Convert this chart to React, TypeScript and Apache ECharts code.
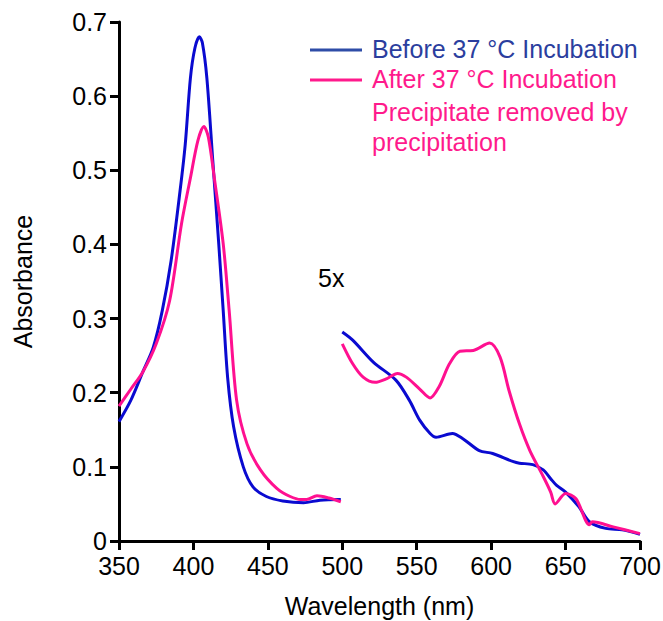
import React, { useEffect, useRef } from "react";
import * as echarts from "echarts";

const blueLeftX = [350, 358, 366, 373, 379, 385, 391, 394.5, 398, 401, 404, 406, 409, 413, 417, 420, 423, 427, 433.5, 440, 449, 460, 474, 485, 499];
const blueLeftY = [0.161, 0.19, 0.228, 0.261, 0.31, 0.378, 0.472, 0.535, 0.625, 0.665, 0.68, 0.672, 0.625, 0.513, 0.401, 0.311, 0.22, 0.154, 0.1, 0.073, 0.06, 0.054, 0.0516, 0.055, 0.056];

const pinkLeftX = [350, 358, 366, 375, 384, 392, 398, 403, 407, 410, 414, 420, 424, 429, 436, 445, 456, 465, 472, 476, 483, 491, 499];
const pinkLeftY = [0.182, 0.205, 0.228, 0.266, 0.324, 0.428, 0.49, 0.54, 0.559, 0.545, 0.49, 0.401, 0.311, 0.19, 0.131, 0.096, 0.071, 0.06, 0.056, 0.056, 0.061, 0.058, 0.053];

const blueRightX = [500, 507, 521, 536, 545, 552, 559, 563, 574, 581, 592, 601, 615, 619, 628, 635, 640, 644, 650, 659, 666, 677, 688, 700];
const blueRightY = [0.282, 0.271, 0.241, 0.217, 0.19, 0.163, 0.145, 0.14, 0.145, 0.138, 0.122, 0.118, 0.107, 0.105, 0.103, 0.096, 0.084, 0.075, 0.066, 0.046, 0.026, 0.017, 0.015, 0.009];

const pinkRightX = [500, 507, 514, 522, 530, 537, 543, 552, 559, 565, 572, 579, 588, 599, 606, 612, 619, 626, 635, 640, 643, 650, 657, 666, 668, 682, 700];
const pinkRightY = [0.266, 0.239, 0.221, 0.214, 0.219, 0.226, 0.221, 0.205, 0.193, 0.208, 0.239, 0.256, 0.257, 0.267, 0.248, 0.203, 0.158, 0.122, 0.087, 0.066, 0.05, 0.064, 0.057, 0.022, 0.026, 0.019, 0.01];

const xTicks = [350, 400, 450, 500, 550, 600, 650, 700];
const yTicks = [0, 0.1, 0.2, 0.3, 0.4, 0.5, 0.6, 0.7];

const legendLabels = ["Before 37 °C Incubation", "After 37 °C Incubation", "Precipitate removed by", "precipitation"];

const BLUE = "#0A0AD0";
const PINK = "#FF1090";
const FONT = "'Liberation Sans', Arial, Helvetica, sans-serif";

function join(xs: number[], ys: number[]) {
  return xs.map((x, i) => [x, ys[i]]);
}

export default function App() {
  const ref = useRef<HTMLDivElement>(null);
  useEffect(() => {
    if (!ref.current) return;
    const chart = echarts.init(ref.current, null, { renderer: "svg" });
    const blueData: any[] = [...join(blueLeftX, blueLeftY), [499.5, "-"], ...join(blueRightX, blueRightY)];
    const pinkData: any[] = [...join(pinkLeftX, pinkLeftY), [499.5, "-"], ...join(pinkRightX, pinkRightY)];
    chart.setOption({
      animation: false,
      backgroundColor: "#fff",
      textStyle: { fontFamily: FONT },
      grid: { left: 119, right: 23, top: 22, bottom: 80, containLabel: false, outerBoundsMode: "none" },
      xAxis: {
        type: "value",
        min: xTicks[0],
        max: xTicks[xTicks.length - 1],
        interval: 50,
        name: "Wavelength (nm)",
        nameLocation: "middle",
        nameGap: 52,
        nameTextStyle: { fontSize: 25, color: "#000", fontFamily: FONT },
        axisLine: { lineStyle: { color: "#000", width: 3 } },
        axisTick: { length: 9, lineStyle: { color: "#000", width: 3 } },
        axisLabel: { fontSize: 25, lineHeight: 20, color: "#000", margin: 15, fontFamily: FONT },
        splitLine: { show: false },
      },
      yAxis: {
        type: "value",
        min: yTicks[0],
        max: yTicks[yTicks.length - 1],
        interval: 0.1,
        name: "Absorbance",
        nameLocation: "middle",
        nameGap: 84,
        nameTextStyle: { fontSize: 25, color: "#000", fontFamily: FONT },
        axisLine: { lineStyle: { color: "#000", width: 3 } },
        axisTick: { length: 9, lineStyle: { color: "#000", width: 3 } },
        axisLabel: {
          fontSize: 25,
          lineHeight: 20,
          color: "#000",
          margin: 12,
          fontFamily: FONT,
          formatter: (v: number) => (v === 0 ? "0" : v.toFixed(1)),
        },
        splitLine: { show: false },
      },
      series: [
        {
          type: "line",
          name: "Before",
          data: blueData,
          showSymbol: false,
          smooth: 0.3,
          connectNulls: false,
          lineStyle: { color: BLUE, width: 3 },
        },
        {
          type: "line",
          name: "After",
          data: pinkData,
          showSymbol: false,
          smooth: 0.3,
          connectNulls: false,
          lineStyle: { color: PINK, width: 3 },
        },
      ],
      graphic: [
        { type: "line", shape: { x1: 310, y1: 50, x2: 362, y2: 50 }, style: { stroke: "#2E4DA7", lineWidth: 3 } },
        { type: "line", shape: { x1: 310, y1: 80, x2: 362, y2: 80 }, style: { stroke: "#FF1A8C", lineWidth: 3 } },
        { type: "text", x: 372, y: 49, style: { text: legendLabels[0], fill: "#2B3E9E", font: `25px ${FONT}`, verticalAlign: "middle" } },
        { type: "text", x: 372, y: 79, style: { text: legendLabels[1], fill: "#FF1A8C", font: `25px ${FONT}`, verticalAlign: "middle" } },
        { type: "text", x: 372, y: 112, style: { text: legendLabels[2], fill: "#FF1A8C", font: `25px ${FONT}`, verticalAlign: "middle" } },
        { type: "text", x: 372, y: 142, style: { text: legendLabels[3], fill: "#FF1A8C", font: `25px ${FONT}`, verticalAlign: "middle" } },
        { type: "text", x: 318, y: 278, style: { text: "5x", fill: "#000", font: `25px ${FONT}`, verticalAlign: "middle" } },
      ],
    });
    return () => chart.dispose();
  }, []);
  return <div ref={ref} style={{ position: "absolute", left: 0, top: 0, width: 663, height: 621 }} />;
}
